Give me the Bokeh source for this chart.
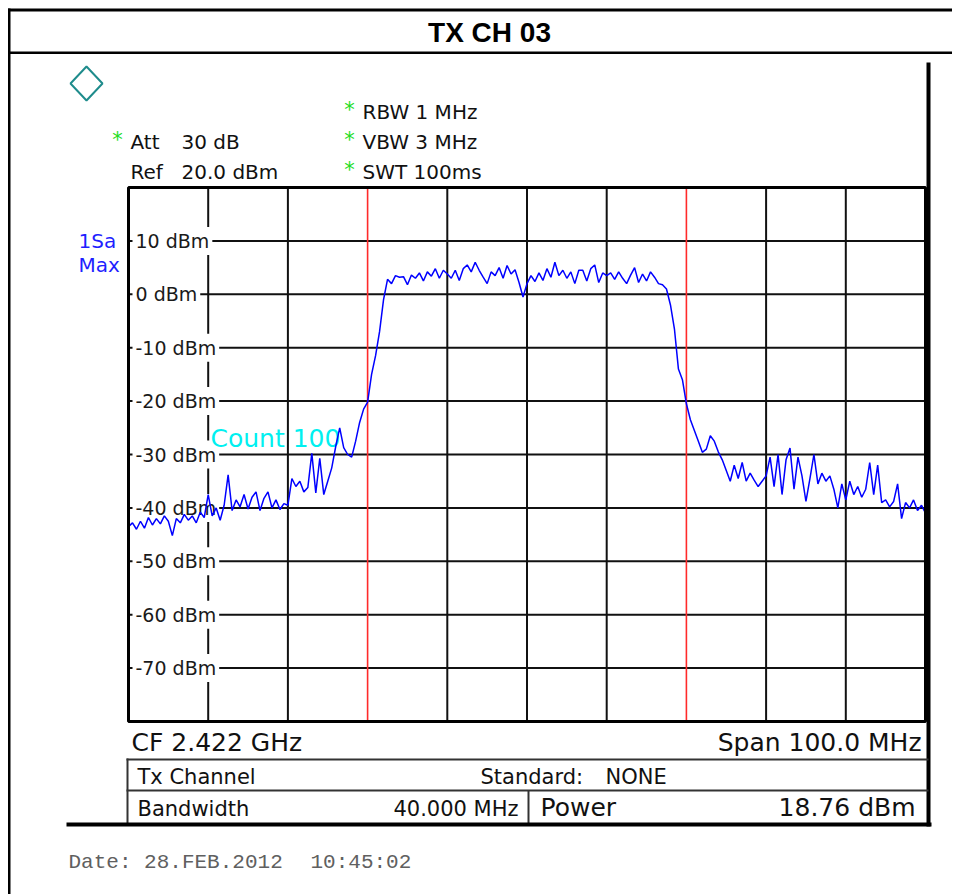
import numpy as np
from bokeh.plotting import figure
from bokeh.models import Range1d, Label, BoxAnnotation, PolyAnnotation
from bokeh.embed import file_html
from bokeh.resources import INLINE

# ---------------- data ----------------
title_text = "TX CH 03"
center_freq_mhz = 2422.0
span_mhz = 100.0
channel_bw_mhz = 40.0
ref_level_dbm = 20.0
bottom_level_dbm = -80.0
x_grid_mhz = [2382, 2392, 2412, 2422, 2432, 2452, 2462]
y_grid_dbm = [-70, -60, -50, -40, -30, -20, -10, 0, 10]
y_tick_values = [10, 0, -10, -20, -30, -40, -50, -60, -70]
y_tick_labels = ["10 dBm", "0 dBm", "-10 dBm", "-20 dBm", "-30 dBm",
                 "-40 dBm", "-50 dBm", "-60 dBm", "-70 dBm"]

# trace (1Sa Max), 201 sweep points across the span
trace_dbm = [
    -43.5, -42.8, -44.0, -42.5, -43.8, -41.8, -43.2, -42.0, -43.0, -41.5,
    -42.5, -45.2, -42.0, -42.8, -41.2, -42.3, -41.5, -42.8, -40.8, -41.8,
    -37.5, -41.5, -40.0, -42.3, -39.5, -33.8, -40.5, -38.5, -39.8, -37.5,
    -40.2, -38.0, -37.0, -40.5, -38.2, -37.0, -40.0, -38.5, -40.3, -39.2,
    -39.5, -34.5, -36.0, -35.0, -37.0, -36.2, -29.8, -37.2, -30.7, -37.5,
    -35.0, -32.5, -28.5, -25.0, -28.7, -30.0, -30.5, -27.5, -24.0, -21.5,
    -20.2, -15.0, -11.5, -7.0, -1.0, 2.8, 2.0, 3.5, 3.2, 3.3,
    1.8, 3.6, 3.0, 4.0, 2.5, 4.2, 3.4, 4.8, 3.0, 4.5,
    3.8, 3.0, 4.5, 2.6, 4.8, 5.5, 4.2, 6.0, 4.5, 3.2,
    2.0, 4.2, 3.5, 5.0, 3.0, 5.4, 3.8, 4.6, 2.2, -0.5,
    2.0, 3.5, 2.4, 4.0, 2.6, 4.8, 3.2, 6.0, 3.5, 4.5,
    3.0, 4.2, 2.0, 4.5, 4.5, 2.5, 4.8, 5.5, 2.2, 4.0,
    3.5, 4.0, 2.8, 4.2, 3.0, 2.0, 3.6, 5.0, 2.2, 3.8,
    2.5, 4.2, 3.2, 2.0, 1.8, 1.0, -2.0, -6.5, -14.0, -16.0,
    -20.5, -23.5, -25.5, -27.5, -29.6, -29.0, -26.5, -27.5, -29.5, -31.0,
    -33.0, -35.0, -32.0, -34.5, -31.5, -35.0, -33.5, -34.8, -36.0, -35.0,
    -34.0, -30.5, -36.0, -30.0, -37.5, -31.0, -28.8, -36.5, -30.5, -34.0,
    -38.8, -34.5, -30.0, -35.5, -33.5, -35.0, -34.0, -36.5, -40.0, -35.5,
    -38.5, -35.0, -37.5, -36.0, -38.0, -36.5, -31.5, -37.5, -32.0, -39.0,
    -38.5, -39.8, -38.8, -35.5, -42.0, -39.0, -40.0, -38.5, -40.5, -39.5,
    -41.0,
]

header_left_names = ["Att", "Ref"]
header_left_values = ["30 dB", "20.0 dBm"]
header_left_starred = [True, False]
header_right = ["RBW 1 MHz", "VBW 3 MHz", "SWT 100ms"]
trace_info = ["1Sa", "Max"]
count_text = "Count 100"
cf_text = "CF 2.422 GHz"
span_text = "Span 100.0 MHz"
table_row1 = ["Tx Channel", "Standard:", "NONE"]
table_row2 = ["Bandwidth", "40.000 MHz", "Power", "18.76 dBm"]
date_parts = ["Date: 28.FEB.2012", "10:45:02"]

# ---------------- layout (page pixels) ----------------
W, H = 952, 894
FL, FT, FR, FB = 128, 187, 925, 721   # instrument display area

f0 = center_freq_mhz - span_mhz / 2
f1 = center_freq_mhz + span_mhz / 2
px_per_x = (FR - FL) / (f1 - f0)
px_per_y = (FB - FT) / (ref_level_dbm - bottom_level_dbm)
x_rng = Range1d(f0 - FL / px_per_x, f1 + (W - FR) / px_per_x)
y_rng = Range1d(bottom_level_dbm - (H - FB) / px_per_y, ref_level_dbm + FT / px_per_y)

freq = np.linspace(f0, f1, len(trace_dbm))

p = figure(width=W, height=H, x_range=x_rng, y_range=y_rng,
           x_axis_location=None, y_axis_location=None,
           toolbar_location=None, output_backend="svg",
           min_border=0)
p.background_fill_color = "white"
p.border_fill_color = "white"
p.outline_line_color = None
p.xgrid.visible = False
p.ygrid.visible = False


def sx(X):
    return X


def sy(Y):
    return H - Y


def lab(X, Y, text, size, color="#111111", align="left", font="DejaVu Sans",
        style="normal", level="annotation", **kw):
    l = Label(x=sx(X), y=sy(Y), x_units="screen", y_units="screen", text=text,
              text_font=font, text_font_size=f"{size}px", text_color=color,
              text_align=align, text_baseline="middle", text_font_style=style,
              level=level, **kw)
    p.add_layout(l)
    return l


def box(X0, Y0, X1, Y1, color="black"):
    b = BoxAnnotation(left=sx(X0), right=sx(X1), top=sy(Y0), bottom=sy(Y1),
                      left_units="screen", right_units="screen",
                      top_units="screen", bottom_units="screen",
                      fill_color=color, fill_alpha=1.0, line_color=None,
                      level="overlay")
    p.add_layout(b)


# grid of the display (channel-edge positions are drawn in red instead)
p.segment(x0=x_grid_mhz, y0=[bottom_level_dbm] * len(x_grid_mhz),
          x1=x_grid_mhz, y1=[ref_level_dbm] * len(x_grid_mhz),
          line_color="#111111", line_width=2, level="image")
p.segment(x0=[f0] * len(y_grid_dbm), y0=y_grid_dbm,
          x1=[f1] * len(y_grid_dbm), y1=y_grid_dbm,
          line_color="#111111", line_width=2, level="image")

# channel edge markers
for loc in (center_freq_mhz - channel_bw_mhz / 2, center_freq_mhz + channel_bw_mhz / 2):
    p.segment(x0=[loc], y0=[bottom_level_dbm], x1=[loc], y1=[ref_level_dbm],
              line_color="#ff2a2a", line_width=1.6, level="underlay")

# y tick labels inside the grid, white background
for v, t in zip(y_tick_values, y_tick_labels):
    l = Label(x=sx(132), y=v, x_units="screen", y_units="data", text=t,
              text_font="DejaVu Sans", text_font_size="19px", text_color="#1a1a1a",
              text_align="left", text_baseline="middle",
              background_fill_color="white", background_fill_alpha=1.0,
              padding=3, level="underlay")
    p.add_layout(l)

lab(210, 438, count_text, 25, color="#00f0f0", level="underlay")

# display frame
p.add_layout(BoxAnnotation(left=f0, right=f1, bottom=bottom_level_dbm, top=ref_level_dbm,
                           fill_alpha=0.0, line_color="black", line_alpha=1.0,
                           line_width=3, level="overlay"))

# trace
p.line(freq, trace_dbm, line_color="#0000ff", line_width=1.5)

# ---------------- page decorations ----------------
box(7.5, 8, W, 11)          # outer top
box(7.5, 8, 10, H)          # outer left
box(7.5, 51, W, 53.5)       # title separator
lab(489, 32, title_text, 28, color="black", font="Liberation Sans", style="bold",
    align="center")

# R&S logo
p.add_layout(PolyAnnotation(xs=[sx(70), sx(86), sx(102), sx(86)],
                            ys=[sy(83), sy(66), sy(83), sy(100)],
                            xs_units="screen", ys_units="screen",
                            fill_color="white", fill_alpha=1.0,
                            line_color="#1f8c8c", line_alpha=1.0,
                            line_width=2, level="overlay"))
lab(86, 83, "R&S", 10, color="#1f8c8c", align="center", style="bold")

# header
for i, (nm, vl, st) in enumerate(zip(header_left_names, header_left_values, header_left_starred)):
    yy = 141 + 30 * i
    if st:
        lab(117, yy - 2, "*", 21, color="#22dd22", align="center")
    lab(130, yy, nm, 20)
    lab(181, yy, vl, 20)
for i, t in enumerate(header_right):
    yy = 111 + 30 * i
    lab(349, yy - 2, "*", 21, color="#22dd22", align="center")
    lab(362, yy, t, 20)
for i, t in enumerate(trace_info):
    lab(78, 240 + 24 * i, t, 20, color="#1f1fff")

# right thick border of instrument display
box(926, 62, 930, 826)

# bottom info
lab(131, 742, cf_text, 25)
lab(921, 742, span_text, 25, align="right")

box(126, 758, 928, 760, color="#333333")
box(126, 789, 928, 791, color="#333333")
box(126, 758, 128, 825, color="#333333")
box(527, 790, 529, 825, color="#333333")
box(66, 822, 931, 826)

lab(137, 776, table_row1[0], 21)
lab(480, 776, table_row1[1], 21)
lab(605, 776, table_row1[2], 21)
lab(137, 808, table_row2[0], 21)
lab(518, 808, table_row2[1], 21, align="right")
lab(540, 807, table_row2[2], 25)
lab(915, 807, table_row2[3], 25, align="right")

lab(68, 862, date_parts[0], 21, color="#606060", font="Liberation Mono")
lab(310, 862, date_parts[1], 21, color="#606060", font="Liberation Mono")

open("out.html", "w").write(file_html(p, INLINE))
